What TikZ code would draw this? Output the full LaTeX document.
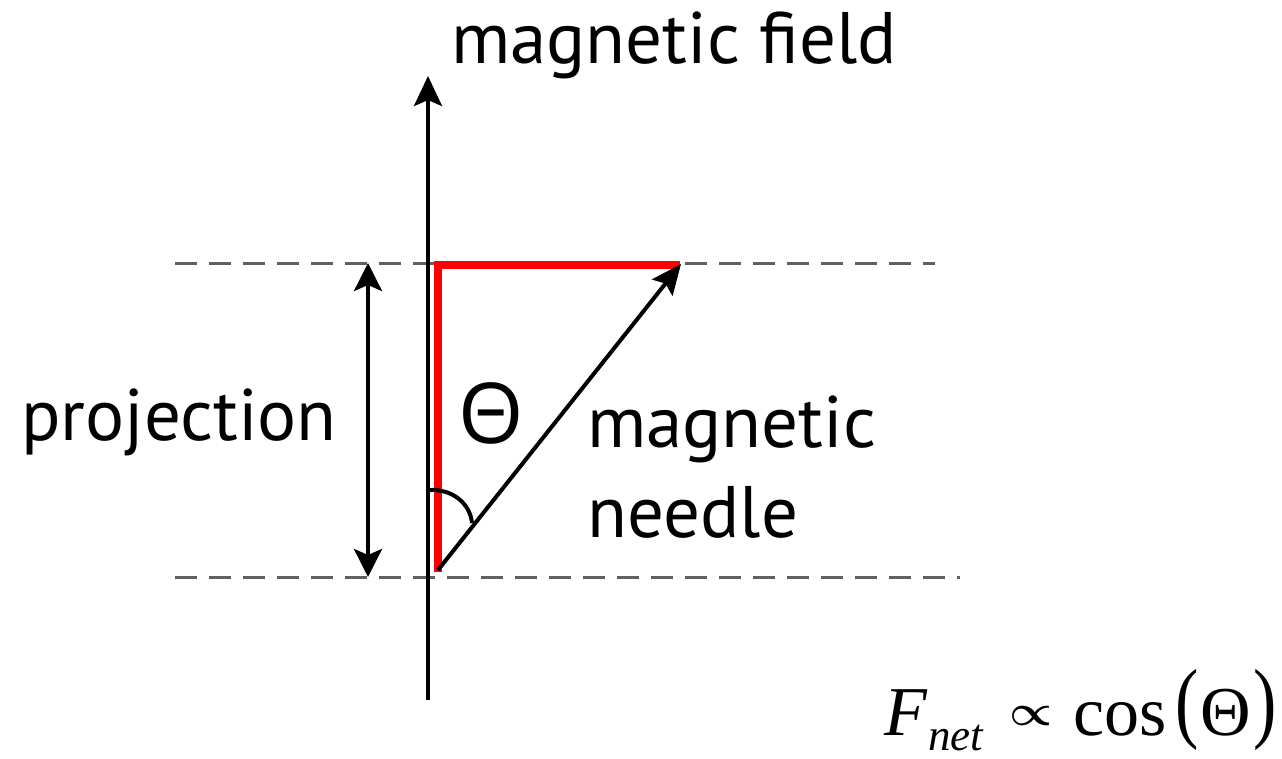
\documentclass[tikz,border=0pt]{standalone}
\usepackage{fontspec}
\setmainfont{PT Sans}
\newfontfamily\greekfont{Open Sans}
\newfontfamily\formfont{Liberation Serif}
\usetikzlibrary{arrows.meta}
\definecolor{dashgray}{HTML}{606060}
\definecolor{projred}{HTML}{FF0000}
\tikzset{
  lbl/.style={inner sep=0pt, font=\fontsize{73}{90}\selectfont},
  frm/.style={inner sep=0pt, font=\formfont\fontsize{70}{70}\selectfont},
  guide/.style={dashgray, line width=3pt, dash pattern=on 22pt off 12pt},
  bigarrow/.style={line width=4pt, -{Stealth[length=30pt,width=28pt,inset=6pt]}},
  dblarrow/.style={line width=4pt, {Stealth[length=28pt,width=28pt,inset=6pt]}-{Stealth[length=28pt,width=28pt,inset=6pt]}},
  needlearrow/.style={line width=4pt, -{Stealth[length=30pt,width=26pt,inset=5pt]}},
  redline/.style={projred, line width=8pt}
}
\begin{document}
\begin{tikzpicture}[x=1pt,y=-1pt]
\useasboundingbox (0,0) rectangle (1282,758);
% guides
\coordinate (gtl) at (175,263); \coordinate (gtr) at (935,263);
\coordinate (gbl) at (175,577); \coordinate (gbr) at (960,577);
\draw[guide] (gtl) -- (gtr);
\draw[guide] (gbl) -- (gbr);
% field axis
\coordinate (axb) at (428,700); \coordinate (axt) at (428,76);
\draw[bigarrow] (axb) -- (axt);
% projection arrow
\coordinate (pt) at (368,263); \coordinate (pb) at (368,577);
\draw[dblarrow] (pb) -- (pt);
% red lines
\coordinate (o) at (438,572); \coordinate (rc) at (438,265); \coordinate (tip) at (680,265);
\draw[redline] (o) -- (rc) -- (tip);
% needle
\coordinate (n0) at (438,570); \coordinate (n1) at (681,264);
\draw[needlearrow] (n0) -- (n1);
% angle arc
\coordinate (a1) at (430,490); \coordinate (a2) at (472,523);
\draw[line width=4pt] (a1) .. controls (452,489) and (470,503) .. (a2);
% labels
\node[lbl, anchor=base] (mf) at (674,63) {magnetic field};
\node[lbl, anchor=base] (proj) at (179,440) {projection};
\node[lbl, anchor=base west] (mn1) at (587,447) {magnetic};
\node[lbl, anchor=base west] (mn2) at (587,537) {needle};
\node[inner sep=0pt, anchor=base, font=\greekfont\fontsize{84}{84}\selectfont] (th) at (491,443) {Θ};
% formula
\node[frm, anchor=base west] (fF) at (884,735) {\textit{F}};
\node[inner sep=0pt, anchor=base west, font=\formfont\fontsize{45}{45}\selectfont] (fnet) at (928,750) {\textit{net}};
\node[inner sep=0pt] (fprop) at (1031,716) {\resizebox{43pt}{19pt}{\boldmath$\propto$}};
\node[frm, anchor=base west] (fcos) at (1073,735) {cos};
\node[frm] (flp) at (1187,710) {\scalebox{1}[1.28]{(}};
\node[frm, anchor=base] (fth) at (1226,735) {Θ};
\node[frm] (frp) at (1265,710) {\scalebox{1}[1.28]{)}};
\end{tikzpicture}
\end{document}
